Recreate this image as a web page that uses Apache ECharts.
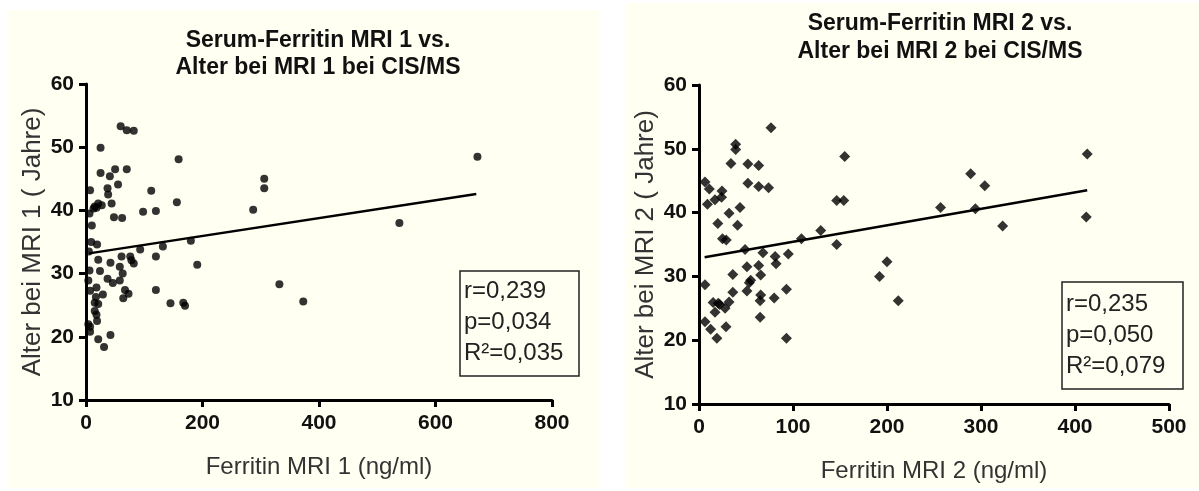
<!DOCTYPE html>
<html>
<head>
<meta charset="utf-8">
<script src="https://cdn.jsdelivr.net/npm/echarts@6/dist/echarts.min.js"></script>
<style>
    html, body { margin: 0; padding: 0; background: #fff; }
    #chart { width: 1199px; height: 491px; }
</style>
</head>
<body>
<div id="chart"></div>
<script>
// Daten MRI 1 (Ferritin ng/ml, Alter Jahre)
var ferritin1 = [59.5, 70, 82, 25, 159, 25, 50, 70, 41, 55, 37, 7, 38, 112, 44, 156, 306, 306, 287, 15, 21, 27, 13, 18,
    6, 48, 62, 98, 120, 10, 19, 93, 132, 180, 21, 42, 61, 76, 78, 82, 120, 58, 191, 24, 63, 37, 46, 58, 18, 7, 29, 67,
    73, 64, 120, 15, 21, 145, 167, 170, 15, 18, 19, 7, 7, 42, 21, 31, 332, 672, 538, 373, 17, 5, 6, 4, 4, 9];
var alter1 = [53.3, 52.7, 52.6, 49.9, 48.1, 45.9, 46.5, 46.5, 45.4, 44.1, 43.5, 43.2, 42.5, 43.1, 41.1, 41.3, 45.0, 43.5,
    40.1, 40.6, 41.1, 40.8, 40.3, 40.4, 39.5, 38.9, 38.8, 39.8, 39.9, 37.6, 34.6, 33.8, 34.3, 35.2, 32.2, 31.7, 32.7,
    32.7, 32.1, 31.6, 32.7, 31.1, 31.4, 30.4, 30.0, 29.2, 28.5, 28.9, 27.8, 27.3, 26.7, 27.4, 26.8, 26.1, 27.4, 25.4,
    25.2, 25.3, 25.4, 24.9, 24.1, 23.5, 22.5, 21.6, 20.8, 20.3, 19.6, 18.4, 28.3, 48.5, 38.0, 25.6, 26.3, 33.5, 30.5,
    28.9, 22.0, 35.0];
var fitX1 = [5, 670];
var fitY1 = [33.2, 42.6];
var stats1 = ['r=0,239', 'p=0,034', 'R²=0,035'];

// Daten MRI 2
var ferritin2 = [76.6, 39, 39, 34, 52, 63.5, 52, 63.5, 74, 6.4, 11, 24.5, 24, 17, 9, 43.6, 32, 20, 41, 25, 29, 49, 68,
    81, 82, 95, 109, 129.5, 146.5, 154, 155, 146.5, 6.4, 36, 51, 63.5, 65.6, 55, 53.5, 51, 36, 65.6, 65, 80, 93, 15,
    20.5, 32, 27.7, 17, 65, 6.4, 12.4, 19, 28.7, 93, 192, 200, 22, 413, 289, 304, 257, 294, 323, 412, 212];
var alter2 = [53.3, 50.7, 49.9, 47.7, 47.6, 47.4, 44.6, 44.1, 43.9, 44.8, 43.7, 43.4, 42.4, 42.0, 41.3, 40.8, 39.9, 38.3,
    38.0, 35.9, 35.7, 34.2, 33.7, 33.1, 32.0, 33.5, 35.9, 37.2, 41.9, 41.9, 48.8, 35.0, 28.7, 30.3, 31.5, 31.7, 30.2,
    29.4, 29.0, 27.7, 27.5, 27.1, 26.2, 26.6, 28.0, 25.9, 25.8, 26.0, 25.0, 24.4, 23.6, 22.9, 21.7, 20.3, 22.1, 20.3,
    30.0, 32.3, 25.6, 49.2, 46.1, 44.2, 40.8, 40.6, 37.9, 39.3, 26.2];
var fitX2 = [6, 413];
var fitY2 = [33.0, 43.5];
var stats2 = ['r=0,235', 'p=0,050', 'R²=0,079'];

var yTicks = [10, 20, 30, 40, 50, 60];

function pairs(xs, ys) {
    return xs.map(function (v, i) { return [v, ys[i]]; });
}

var FONT = '"Liberation Sans", Arial, sans-serif';

function xAxisOf(idx, max, step, name, gap) {
    return {
        gridIndex: idx, type: 'value', min: 0, max: max, interval: step,
        name: name, nameLocation: 'middle', nameGap: gap,
        nameTextStyle: { fontFamily: FONT, fontSize: 24, color: '#333' },
        splitLine: { show: false },
        axisLine: { lineStyle: { color: '#000', width: 3 } },
        axisTick: { length: 7, lineStyle: { color: '#000', width: 3 } },
        axisLabel: { margin: 13, fontFamily: FONT, fontSize: 21, fontWeight: 'bold', color: '#111' }
    };
}
function yAxisOf(idx, name) {
    return {
        gridIndex: idx, type: 'value', min: yTicks[0], max: yTicks[yTicks.length - 1], interval: 10,
        name: name, nameLocation: 'middle', nameGap: 40,
        nameTextStyle: { fontFamily: FONT, fontSize: 26, color: '#333' },
        splitLine: { show: false },
        axisLine: { onZero: false, lineStyle: { color: '#000', width: 3 } },
        axisTick: { length: 7, lineStyle: { color: '#000', width: 3 } },
        axisLabel: { margin: 12, fontFamily: FONT, fontSize: 21, fontWeight: 'bold', color: '#111' }
    };
}
function statsBox(x, y, w, h, lines, top, step) {
    var items = [{ type: 'rect', shape: { x: x, y: y, width: w, height: h },
        style: { fill: 'none', stroke: '#222', lineWidth: 1.5 } }];
    lines.forEach(function (t, i) {
        items.push({ type: 'text', x: x + 4, y: top + i * step,
            style: { text: t, font: '24px ' + FONT, fill: '#222', textVerticalAlign: 'middle' } });
    });
    return items;
}

var myChart = echarts.init(document.getElementById('chart'));
myChart.setOption({
    animation: false,
    backgroundColor: '#fff',
    title: [
        { text: 'Serum-Ferritin MRI 1 vs.\nAlter bei MRI 1 bei CIS/MS', left: 313, top: 22, textAlign: 'center',
          textStyle: { fontFamily: FONT, fontSize: 23, fontWeight: 'bold', color: '#111', lineHeight: 27 } },
        { text: 'Serum-Ferritin MRI 2 vs.\nAlter bei MRI 2 bei CIS/MS', left: 935, top: 5, textAlign: 'center',
          textStyle: { fontFamily: FONT, fontSize: 23, fontWeight: 'bold', color: '#111', lineHeight: 28 } }
    ],
    graphic: [
        { type: 'rect', z: -10, shape: { x: 7, y: 10, width: 593, height: 478 }, style: { fill: '#fffff2' } },
        { type: 'rect', z: -10, shape: { x: 625, y: 3, width: 574, height: 485 }, style: { fill: '#fffff2' } }
    ].concat(statsBox(460, 271, 119, 105, stats1, 291, 31))
     .concat(statsBox(1062, 282, 121, 107, stats2, 304, 31)),
    grid: [
        { left: 86, top: 84, width: 466, height: 316 },
        { left: 699, top: 85, width: 470, height: 319 }
    ],
    xAxis: [
        xAxisOf(0, 800, 200, 'Ferritin MRI 1 (ng/ml)', 55),
        xAxisOf(1, 500, 100, 'Ferritin MRI 2 (ng/ml)', 55)
    ],
    yAxis: [
        yAxisOf(0, 'Alter bei MRI 1 ( Jahre)'),
        yAxisOf(1, 'Alter bei MRI 2 ( Jahre)')
    ],
    series: [
        { type: 'scatter', xAxisIndex: 0, yAxisIndex: 0, symbol: 'circle', symbolSize: 8,
          itemStyle: { color: '#000' }, data: pairs(ferritin1, alter1) },
        { type: 'line', xAxisIndex: 0, yAxisIndex: 0, symbol: 'none',
          lineStyle: { color: '#000', width: 2.5 }, data: pairs(fitX1, fitY1) },
        { type: 'scatter', xAxisIndex: 1, yAxisIndex: 1, symbol: 'diamond', symbolSize: 11,
          itemStyle: { color: '#000' }, data: pairs(ferritin2, alter2) },
        { type: 'line', xAxisIndex: 1, yAxisIndex: 1, symbol: 'none',
          lineStyle: { color: '#000', width: 2.5 }, data: pairs(fitX2, fitY2) }
    ]
});
</script>
</body>
</html>
